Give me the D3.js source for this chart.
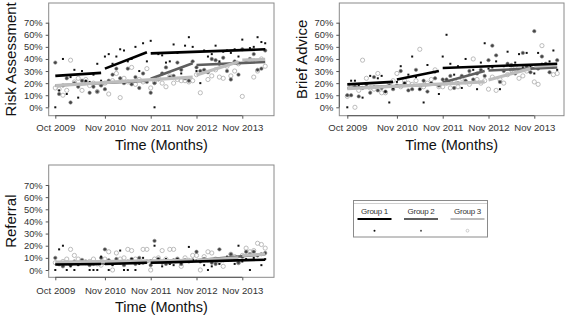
<!DOCTYPE html>
<html>
<head>
<meta charset="utf-8">
<script src="https://cdn.jsdelivr.net/npm/d3@7"></script>
<style>
  body { margin: 0; background: #fff; }
  text { font-family: "Liberation Sans", Arial, sans-serif; }
</style>
</head>
<body>
<div id="chart"></div>
<script>
// months since Oct 2009 (0..55)
var months = d3.range(0, 56);
var tickMonths = [0, 13, 25, 37, 49];
var tickLabels = ["Oct 2009", "Nov 2010", "Nov 2011", "Nov 2012", "Nov 2013"];
var yTicks = [0, 10, 20, 30, 40, 50, 60, 70];
var groups = ["Group 1", "Group 2", "Group 3"];

// Risk Assessment (%)
var riskG1 = [0, 14, 40, 11, 25, 31, 8, 30, 22, 21, 27, 36, 22, 42, 44, 36, 42, 48, 47, 38, 40, 50, 30, 53, 38, 55, 0, 44, 43, 37, 38, 52, 45, 28, 51, 58, 50, 30, 20, 47, 42, 44, 51, 38, 46, 47, 45, 48, 42, 56, 37, 49, 50, 58, 54, 53];
var riskG2 = [37, 11, 18, 24, 4, 20, 17, 22, 21, 12, 17, 13, 18, 15, 22, 27, 32, 24, 20, 32, 19, 25, 16, 28, 21, 12, 20, 23, 28, 33, 25, 26, 37, 31, 24, 22, 38, 33, 30, 31, 29, 40, 39, 36, 41, 30, 23, 38, 27, 48, 38, 40, 44, 31, 32, 47];
var riskG3 = [16, 15, 10, 14, 39, 21, 24, 14, 23, 18, 20, 13, 19, 20, 11, 22, 28, 8, 24, 21, 33, 19, 23, 21, 32, 16, 21, 24, 20, 17, 26, 20, 23, 22, 22, 21, 22, 27, 12, 30, 23, 26, 31, 25, 24, 34, 26, 30, 36, 9, 38, 39, 25, 30, 40, 34];

// Brief Advice (%)
var adviceG1 = [0, 22, 22, 18, 8, 20, 26, 17, 24, 26, 13, 4, 16, 21, 34, 20, 27, 42, 25, 15, 4, 35, 20, 29, 11, 42, 60, 36, 27, 34, 16, 40, 27, 31, 15, 37, 53, 32, 33, 38, 15, 34, 46, 28, 37, 44, 33, 45, 34, 28, 45, 36, 34, 38, 47, 31];
var adviceG2 = [10, 10, 17, 9, 16, 19, 12, 25, 14, 16, 13, 18, 15, 18, 30, 20, 14, 15, 31, 15, 22, 13, 20, 24, 18, 23, 23, 26, 16, 20, 26, 22, 30, 23, 28, 31, 26, 39, 51, 43, 21, 30, 36, 35, 28, 31, 45, 34, 29, 63, 32, 42, 36, 29, 34, 39];
var adviceG3 = [9, 17, 0, 14, 39, 24, 16, 15, 28, 12, 12, 19, 22, 28, 17, 22, 20, 19, 22, 48, 17, 20, 23, 31, 17, 17, 20, 16, 22, 17, 24, 21, 19, 40, 23, 20, 22, 15, 25, 14, 23, 20, 27, 31, 34, 24, 26, 30, 33, 21, 19, 51, 34, 35, 27, 28];

// Referral (%)
var referralG1 = [0, 17, 20, 0, 3, 0, 4, 5, 6, 0, 0, 0, 11, 5, 0, 4, 6, 16, 0, 0, 9, 0, 5, 10, 7, 8, 20, 9, 3, 9, 5, 4, 9, 6, 7, 19, 8, 8, 7, 4, 0, 3, 8, 5, 9, 11, 8, 5, 20, 7, 9, 0, 10, 12, 4, 9];
var referralG2 = [10, 5, 3, 6, 4, 7, 5, 8, 7, 4, 5, 6, 10, 17, 8, 5, 9, 6, 4, 7, 9, 5, 10, 6, 7, 4, 24, 9, 6, 5, 6, 8, 9, 5, 8, 7, 8, 15, 7, 9, 8, 6, 5, 17, 8, 9, 13, 9, 6, 11, 15, 13, 15, 12, 13, 14];
var referralG3 = [6, 5, 7, 9, 17, 12, 9, 8, 6, 7, 9, 5, 4, 9, 15, 0, 14, 9, 10, 17, 16, 9, 8, 17, 17, 0, 9, 10, 16, 9, 17, 17, 9, 3, 10, 8, 12, 12, 0, 11, 15, 14, 9, 7, 3, 9, 13, 11, 6, 12, 18, 15, 16, 22, 21, 18];

// fitted segments: [startMonth, endMonth, startValue, endValue]
var riskFit = [
    [[0, 12, 26, 28.5], [13, 24, 32, 45.5], [25, 55, 44.6, 48]],
    [[0, 24, 18, 22], [25, 36, 23.7, 36.4], [37, 55, 35, 37.5]],
    [[0, 36, 18, 25], [37, 48, 26.7, 37.7], [49, 55, 39, 39.7]]
];
var adviceFit = [
    [[0, 12, 19, 21], [13, 24, 23, 30], [25, 55, 32.5, 36]],
    [[0, 24, 16, 19], [25, 36, 20.5, 30], [37, 55, 30.5, 33]],
    [[0, 36, 15.5, 21], [37, 48, 22.6, 32], [49, 55, 34, 35]]
];
var referralFit = [
    [[0, 12, 4.5, 5], [13, 24, 5, 6], [25, 55, 6, 8.5]],
    [[0, 24, 5, 6], [25, 36, 6, 7], [37, 55, 8, 13]],
    [[0, 36, 6.5, 8], [37, 48, 8, 10], [49, 55, 12, 13]]
];

var lineColor = ["#000000", "#5e5e5e", "#bdbdbd"];
var lineWidth = [2.6, 2.6, 3.2];

var svg = d3.select("#chart")
    .append("svg")
    .attr("width", 567)
    .attr("height", 317);

function drawPoints(g, x, y, values, k) {
    if (k == 0) {
        g.append("g").selectAll("rect")
            .data(values)
            .enter().append("rect")
            .attr("x", function (d, i) { return x(months[i]) - 1; })
            .attr("y", function (d) { return y(d) - 1; })
            .attr("width", 2)
            .attr("height", 2)
            .attr("fill", "#111");
    } else if (k == 1) {
        g.append("g").selectAll("circle")
            .data(values)
            .enter().append("circle")
            .attr("cx", function (d, i) { return x(months[i]); })
            .attr("cy", function (d) { return y(d); })
            .attr("r", 1.7)
            .attr("fill", "#444")
            .attr("stroke", "#888")
            .attr("stroke-width", 0.6);
    } else {
        g.append("g").selectAll("circle")
            .data(values)
            .enter().append("circle")
            .attr("cx", function (d, i) { return x(months[i]); })
            .attr("cy", function (d) { return y(d); })
            .attr("r", 2.1)
            .attr("fill", "none")
            .attr("stroke", "#b4b4b4")
            .attr("stroke-width", 0.9);
    }
}

function panel(p) {
    var g = svg.append("g");

    var x = d3.scaleLinear()
        .domain([0, 49])
        .range([p.left + p.xoff, p.left + p.xoff + 187]);
    var y = d3.scaleLinear()
        .domain([0, 70])
        .range([p.top + p.y0, p.top + p.y0 - p.y70]);

    // points
    drawPoints(g, x, y, p.series[2], 2);
    drawPoints(g, x, y, p.series[1], 1);
    drawPoints(g, x, y, p.series[0], 0);

    // fitted lines
    [1, 2, 0].forEach(function (k) {
        g.append("g").selectAll("line")
            .data(p.fit[k])
            .enter().append("line")
            .attr("x1", function (d) { return x(d[0]); })
            .attr("x2", function (d) { return x(d[1]); })
            .attr("y1", function (d) { return y(d[2]); })
            .attr("y2", function (d) { return y(d[3]); })
            .attr("stroke", lineColor[k])
            .attr("stroke-width", lineWidth[k]);
    });

    // box
    g.append("rect")
        .attr("x", p.left)
        .attr("y", p.top)
        .attr("width", p.width)
        .attr("height", p.height)
        .attr("fill", "none")
        .attr("stroke", "#8a8a8a")
        .attr("stroke-width", 1);

    // X axis (ticks only at labelled months)
    var xAxis = g.append("g")
        .attr("transform", "translate(0," + (p.top + p.height) + ")")
        .call(d3.axisBottom(x)
            .tickValues(tickMonths)
            .tickFormat(function (d, i) { return tickLabels[i]; })
            .tickSize(3)
            .tickPadding(p.xpad));
    xAxis.select(".domain").attr("d", "M" + x(0) + ",0H" + x(49)).attr("stroke", "#555");
    xAxis.selectAll(".tick line").attr("stroke", "#555");
    xAxis.selectAll("text").style("font-size", "9.6px").attr("fill", "#333");

    // Y axis
    var yAxis = g.append("g")
        .attr("transform", "translate(" + p.left + ",0)")
        .call(d3.axisLeft(y)
            .tickValues(yTicks)
            .tickFormat(function (d) { return d + "%"; })
            .tickSize(3)
            .tickPadding(3));
    yAxis.select(".domain").attr("d", "M0," + y(0) + "V" + y(70)).attr("stroke", "#555");
    yAxis.selectAll(".tick line").attr("stroke", "#555");
    yAxis.selectAll("text").style("font-size", "9.4px").attr("fill", "#333");

    // X axis label:
    g.append("text")
        .attr("text-anchor", "middle")
        .attr("x", p.left + p.width / 2)
        .attr("y", p.top + p.height + p.xlab)
        .style("font-size", "14.5px")
        .attr("fill", "#111")
        .text("Time (Months)");

    // Y axis label:
    g.append("text")
        .attr("text-anchor", "middle")
        .attr("transform", "translate(" + p.ylabX + "," + (p.top + p.height / 2) + ") rotate(-90)")
        .style("font-size", "15px")
        .attr("fill", "#111")
        .text(p.title);
}

panel({ left: 48.7, top: 3, width: 225.3, height: 112.7, xoff: 6.6, y0: 104.3, y70: 84.6,
    xpad: 5, xlab: 34, ylabX: 15.5, title: "Risk Assessment", series: [riskG1, riskG2, riskG3], fit: riskFit });
panel({ left: 339.3, top: 3, width: 224.7, height: 112.7, xoff: 8, y0: 104.3, y70: 84.6,
    xpad: 5, xlab: 34, ylabX: 306.5, title: "Brief Advice", series: [adviceG1, adviceG2, adviceG3], fit: adviceFit });
panel({ left: 48.7, top: 165, width: 225.3, height: 112.3, xoff: 6.6, y0: 105, y70: 85,
    xpad: 7, xlab: 35, ylabX: 15.5, title: "Referral", series: [referralG1, referralG2, referralG3], fit: referralFit });

// Legend
var legend = svg.append("g");
legend.append("rect")
    .attr("x", 353.5)
    .attr("y", 200.5)
    .attr("width", 134)
    .attr("height", 36.5)
    .attr("fill", "none")
    .attr("stroke", "#8a8a8a");
legend.append("line")
    .attr("x1", 354).attr("x2", 487)
    .attr("y1", 203.5).attr("y2", 203.5)
    .attr("stroke", "#d0d0d0");

var legendX = d3.scalePoint()
    .domain(groups)
    .range([374.5, 467.5]);

var item = legend.selectAll("g.item")
    .data(groups)
    .enter().append("g")
    .attr("class", "item")
    .attr("transform", function (d) { return "translate(" + legendX(d) + ",0)"; });
item.append("text")
    .attr("text-anchor", "middle")
    .attr("y", 213.5)
    .style("font-size", "8px")
    .style("letter-spacing", "-0.3px")
    .attr("fill", "#333")
    .text(function (d) { return d; });
item.append("line")
    .attr("x1", -17).attr("x2", 17)
    .attr("y1", 219).attr("y2", 219)
    .attr("stroke", function (d, i) { return lineColor[i]; })
    .attr("stroke-width", function (d, i) { return i == 2 ? 2.2 : 2; });
item.append("circle")
    .attr("cy", 230.7)
    .attr("r", function (d, i) { return i == 2 ? 1.4 : 1; })
    .attr("fill", function (d, i) { return i == 2 ? "none" : (i == 0 ? "#111" : "#555"); })
    .attr("stroke", function (d, i) { return i == 2 ? "#c0c0c0" : "none"; })
    .attr("stroke-width", 0.8);
</script>
</body>
</html>
